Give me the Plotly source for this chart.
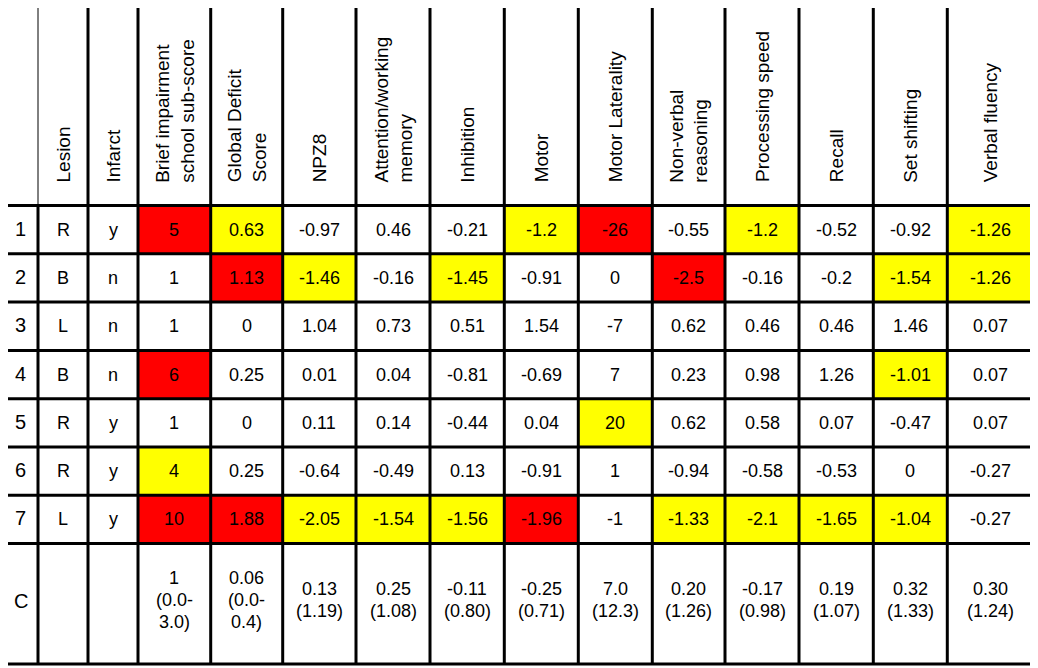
import plotly.graph_objects as go

# ---------------- data ----------------
row_ids = ["1", "2", "3", "4", "5", "6", "7"]
lesion = ["R", "B", "L", "B", "R", "R", "L"]
infarct = ["y", "n", "n", "n", "y", "y", "y"]

measures = ["Brief impairment<br>school sub-score", "Global Deficit<br>Score", "NPZ8",
            "Attention/working<br>memory", "Inhibition", "Motor", "Motor Laterality",
            "Non-verbal<br>reasoning", "Processing speed", "Recall", "Set shifting",
            "Verbal fluency"]

brief = [5, 1, 1, 6, 1, 4, 10]
global_deficit = [0.63, 1.13, 0, 0.25, 0, 0.25, 1.88]
npz8 = [-0.97, -1.46, 1.04, 0.01, 0.11, -0.64, -2.05]
attention = [0.46, -0.16, 0.73, 0.04, 0.14, -0.49, -1.54]
inhibition = [-0.21, -1.45, 0.51, -0.81, -0.44, 0.13, -1.56]
motor = [-1.2, -0.91, 1.54, -0.69, 0.04, -0.91, -1.96]
motor_laterality = [-26, 0, -7, 7, 20, 1, -1]
nonverbal = [-0.55, -2.5, 0.62, 0.23, 0.62, -0.94, -1.33]
processing = [-1.2, -0.16, 0.46, 0.98, 0.58, -0.58, -2.1]
recall = [-0.52, -0.2, 0.46, 1.26, 0.07, -0.53, -1.65]
set_shifting = [-0.92, -1.54, 1.46, -1.01, -0.47, 0, -1.04]
verbal_fluency = [-1.26, -1.26, 0.07, 0.07, 0.07, -0.27, -0.27]

# 0 = none, 1 = yellow, 2 = red  (per patient row, per measure)
highlight = [
    [2, 1, 0, 0, 0, 1, 2, 0, 1, 0, 0, 1],
    [0, 2, 1, 0, 1, 0, 0, 2, 0, 0, 1, 1],
    [0, 0, 0, 0, 0, 0, 0, 0, 0, 0, 0, 0],
    [2, 0, 0, 0, 0, 0, 0, 0, 0, 0, 1, 0],
    [0, 0, 0, 0, 0, 0, 1, 0, 0, 0, 0, 0],
    [1, 0, 0, 0, 0, 0, 0, 0, 0, 0, 0, 0],
    [2, 2, 1, 1, 1, 2, 0, 1, 1, 1, 1, 0],
]

control_label = "C"
control_center = ["1", "0.06", "0.13", "0.25", "-0.11", "-0.25", "7.0", "0.20",
                  "-0.17", "0.19", "0.32", "0.30"]
control_spread = ["(0.0-|3.0)", "(0.0-|0.4)", "(1.19)", "(1.08)", "(0.80)", "(0.71)",
                  "(12.3)", "(1.26)", "(0.98)", "(1.07)", "(1.33)", "(1.24)"]

# ---------------- layout / style ----------------
W, H = 1038, 668
PAGE_OFFSET = 8   # default body margin of the html page
col_edges = [3, 38, 88, 138, 210.7, 282.7, 356, 430, 504.3, 578.3, 652.3,
             725, 799, 873.3, 947.3, 1034.3]
header_top = 5
header_bottom = 205.5
row_h = 48.3
ctrl_bottom = 664
ctrl_text_center = 600
ctrl_line_gap = 21.7
fill_colors = {1: "#FFFF00", 2: "#FF0000"}
FONT = "Liberation Sans, Arial, sans-serif"
THICK = 3

series = [brief, global_deficit, npz8, attention, inhibition, motor, motor_laterality,
          nonverbal, processing, recall, set_shifting, verbal_fluency]

def fmt(v):
    return f"{v:g}"

def cx(c):
    return (col_edges[c] + col_edges[c + 1]) / 2

row_tops = [header_bottom + i * row_h for i in range(len(row_ids))]
ctrl_top = header_bottom + len(row_ids) * row_h

shapes = []
annotations = []

# highlighted cells
for r, flags in enumerate(highlight):
    for m, f in enumerate(flags):
        if f:
            shapes.append(dict(type="rect", xref="x", yref="y", layer="below",
                               x0=col_edges[m + 3], x1=col_edges[m + 4],
                               y0=row_tops[r], y1=row_tops[r] + row_h,
                               fillcolor=fill_colors[f], line=dict(width=0)))

def line(x0, y0, x1, y1, w=THICK):
    shapes.append(dict(type="line", xref="x", yref="y", x0=x0, y0=y0, x1=x1, y1=y1,
                       line=dict(color="black", width=w)))

# vertical lines
line(col_edges[0], header_bottom, col_edges[0], ctrl_bottom)
line(col_edges[1], header_top, col_edges[1], header_bottom, 1)
line(col_edges[1], header_bottom, col_edges[1], ctrl_bottom)
for e in col_edges[2:]:
    line(e, header_top, e, ctrl_bottom)
# horizontal lines
for y in row_tops + [ctrl_top, ctrl_bottom]:
    line(col_edges[0], y, col_edges[-1], y)

# header text (rotated)
headers = ["Lesion", "Infarct"] + measures
for i, h in enumerate(headers):
    annotations.append(dict(x=cx(i + 1), y=header_bottom - 21, xref="x", yref="y",
                            text=h, textangle=-90, showarrow=False, align="left",
                            xanchor="center", yanchor="bottom",
                            font=dict(family=FONT, size=19, color="black")))

# body text
for r in range(len(row_ids)):
    yc = row_tops[r] + row_h / 2
    cells = [row_ids[r], lesion[r], infarct[r]] + [fmt(s[r]) for s in series]
    for c, t in enumerate(cells):
        annotations.append(dict(x=cx(c), y=yc - (1 if c == 0 else 0), xref="x", yref="y",
                                text=t, showarrow=False, xanchor="center", yanchor="middle",
                                font=dict(family=FONT, size=20 if c == 0 else 18,
                                          color="black")))

# control row
annotations.append(dict(x=cx(0), y=ctrl_text_center + 1, xref="x", yref="y",
                        text=control_label, showarrow=False,
                        font=dict(family=FONT, size=20, color="black")))
for m in range(len(control_center)):
    lines = [control_center[m]] + control_spread[m].split("|")
    n = len(lines)
    for k, t in enumerate(lines):
        y = ctrl_text_center + (k - (n - 1) / 2) * ctrl_line_gap
        annotations.append(dict(x=cx(m + 3), y=y, xref="x", yref="y", text=t,
                                showarrow=False, xanchor="center", yanchor="middle",
                                font=dict(family=FONT, size=18, color="black")))

fig = go.Figure()
fig.update_layout(
    width=W - PAGE_OFFSET, height=H - PAGE_OFFSET, margin=dict(l=0, r=0, t=0, b=0),
    paper_bgcolor="white", plot_bgcolor="white", showlegend=False,
    xaxis=dict(range=[PAGE_OFFSET, W], visible=False, fixedrange=True),
    yaxis=dict(range=[H, PAGE_OFFSET], visible=False, fixedrange=True),
    shapes=shapes, annotations=annotations,
)
fig.write_html("out.html")
